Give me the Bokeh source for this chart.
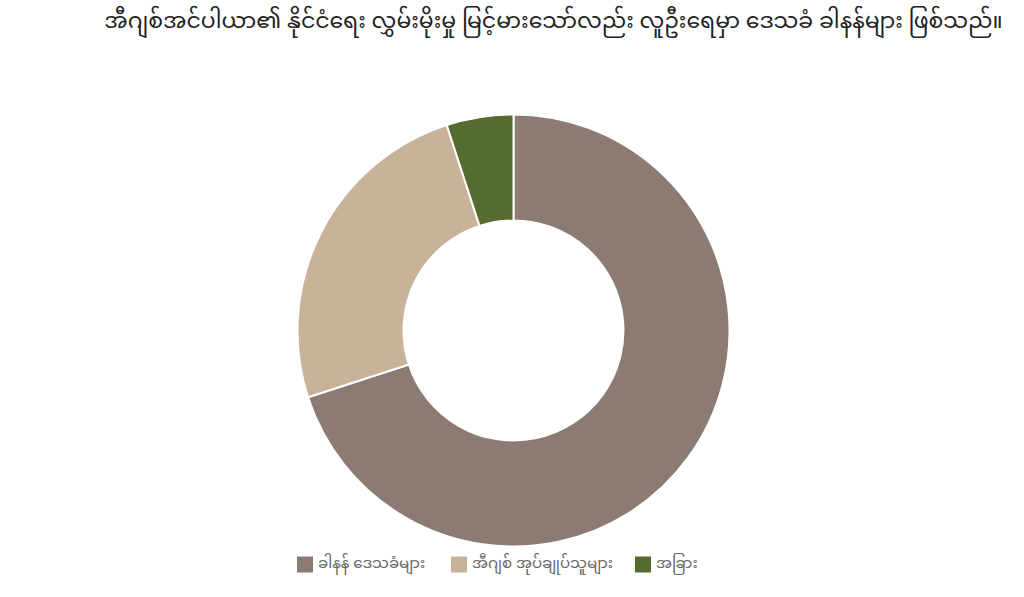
import math
from bokeh.plotting import figure
from bokeh.models import Label, ColumnDataSource, Range1d
from bokeh.core.properties import value
from bokeh.embed import file_html
from bokeh.resources import INLINE

title = "အီဂျစ်အင်ပါယာ၏ နိုင်ငံရေး လွှမ်းမိုးမှု မြင့်မားသော်လည်း လူဦးရေမှာ ဒေသခံ ခါနန်များ ဖြစ်သည်။"
categories = ["ခါနန် ဒေသခံများ", "အီဂျစ် အုပ်ချုပ်သူများ", "အခြား"]
values = [70, 25, 5]
colors = ["#8B7B72", "#C8B299", "#556B2F"]

FONT = "Noto Sans Myanmar, Padauk, Myanmar Text, Noto Sans, sans-serif"

W, H = 1008, 581
p = figure(width=W, height=H, output_backend="svg", toolbar_location=None,
           x_range=Range1d(0, W), y_range=Range1d(0, H), min_border=0)
p.axis.visible = False
p.grid.visible = False
p.outline_line_color = None
p.background_fill_color = "white"

total = sum(values)
starts, ends = [], []
acc = 0.0
for v in values:
    a0 = math.pi / 2 - 2 * math.pi * acc / total
    acc += v
    a1 = math.pi / 2 - 2 * math.pi * acc / total
    starts.append(a0)
    ends.append(a1)

cx, cy = 513, 251
src = ColumnDataSource(dict(x=[cx] * len(values), y=[cy] * len(values),
                            s=starts, e=ends, color=colors, label=categories))
p.annular_wedge(x="x", y="y", inner_radius=110, outer_radius=216,
                inner_radius_units="screen", outer_radius_units="screen",
                start_angle="s", end_angle="e", direction="clock",
                fill_color="color", line_color="white", line_width=2,
                source=src)

# manual legend (layout positions)
leg_x = [304.5, 458.5, 642.5]
leg_y = 17
lsrc = ColumnDataSource(dict(x=leg_x, y=[leg_y] * 3, tx=[x + 13 for x in leg_x],
                             color=colors, label=categories))
p.scatter(x="x", y="y", marker="square", size=16, fill_color="color",
          line_color=None, source=lsrc)
p.text(x="tx", y="y", text="label", source=lsrc, text_font=value(FONT),
       text_font_size="15px", text_color="#666666", text_baseline="middle",
       text_align="left")

p.add_layout(Label(x=553, y=H - 22, x_units="screen", y_units="screen",
                   text=title, text_align="center", text_baseline="middle",
                   text_font=FONT, text_font_size="22px", text_color="#222222"))

open("out.html", "w").write(file_html(p, INLINE))
